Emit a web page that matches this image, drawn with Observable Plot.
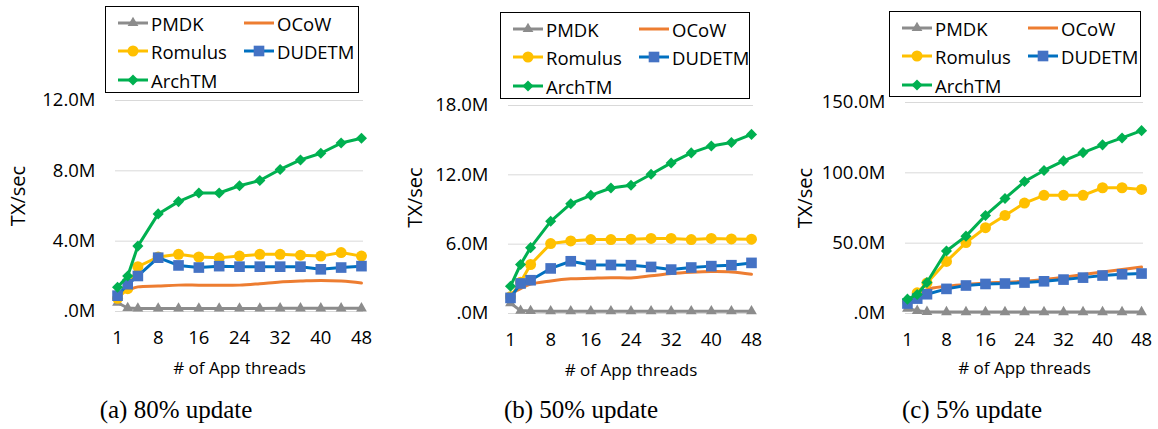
<!DOCTYPE html>
<html><head><meta charset="utf-8">
<script src="https://cdn.jsdelivr.net/npm/d3@7"></script>
<script src="https://cdn.jsdelivr.net/npm/@observablehq/plot@0.6"></script>
<style>
body{margin:0;background:#fff;}
#root{position:relative;width:1158px;height:429px;overflow:hidden;font-family:"Open Sans",sans-serif;}
.panel{position:absolute;top:0;}
.legend{position:absolute;border:1px solid #000;background:#fff;box-sizing:border-box;}
.item{position:absolute;height:20px;display:flex;align-items:center;font-size:18.5px;color:#000;white-space:nowrap;}
.item svg{margin-right:2px;}
.caption{position:absolute;top:396px;font-family:"Liberation Serif",serif;font-size:25px;transform:translateX(-50%);white-space:nowrap;color:#000;}
</style>
</head><body><div id="root"></div>
<script>
// ---- data ----
const threads = [1,2,4,8,12,16,20,24,28,32,36,40,44,48];
const xTickLabels = [1,8,16,24,32,40,48];
const seriesNames = ["PMDK","OCoW","Romulus","DUDETM","ArchTM"];
const captions = ["(a) 80% update","(b) 50% update","(c) 5% update"];
const yTitle = "TX/sec";
const xTitle = "# of App threads";

// values in millions of TX/sec
const upd80_PMDK    = [0.5,0.2,0.17,0.17,0.17,0.17,0.17,0.17,0.17,0.18,0.18,0.18,0.18,0.18];
const upd80_OCoW    = [1.0,1.2,1.4,1.45,1.5,1.5,1.5,1.5,1.58,1.68,1.73,1.77,1.73,1.62];
const upd80_Romulus = [0.75,1.3,2.55,3.1,3.25,3.1,3.05,3.15,3.25,3.25,3.2,3.15,3.35,3.15];
const upd80_DUDETM  = [0.9,1.55,2.02,3.06,2.62,2.5,2.58,2.55,2.55,2.55,2.55,2.4,2.5,2.58];
const upd80_ArchTM  = [1.38,2.02,3.72,5.55,6.25,6.74,6.74,7.15,7.45,8.08,8.62,9.0,9.58,9.85];

const upd50_PMDK    = [0.9,0.25,0.22,0.2,0.2,0.2,0.2,0.2,0.2,0.2,0.2,0.2,0.2,0.2];
const upd50_OCoW    = [1.7,2.16,2.54,2.82,3.0,3.05,3.1,3.08,3.26,3.46,3.57,3.63,3.6,3.4];
const upd50_Romulus = [1.45,2.7,4.24,6.05,6.28,6.4,6.4,6.43,6.5,6.5,6.4,6.5,6.45,6.43];
const upd50_DUDETM  = [1.35,2.6,2.88,3.9,4.52,4.2,4.2,4.18,4.03,3.8,3.98,4.1,4.18,4.38];
const upd50_ArchTM  = [2.36,4.24,5.7,7.98,9.5,10.23,10.86,11.1,12.05,13.03,13.9,14.5,14.8,15.5];

const upd5_PMDK     = [3.5,1.9,1.2,1.0,1.0,1.0,1.0,1.0,1.0,1.0,1.0,1.0,1.0,1.0];
const upd5_OCoW     = [9.5,12.3,17,19.4,20.6,21.7,22.2,22.9,24.1,25.8,27.7,29.5,31.2,33];
const upd5_Romulus  = [8.3,14.7,21.7,37,50.4,61,69.7,78.5,84,84,84,89.4,89.4,88.2];
const upd5_DUDETM   = [7.1,10.6,13.7,17.5,19.9,21,21.3,22,22.9,24.1,25.5,27,27.9,28.4];
const upd5_ArchTM   = [10.2,13.5,22,44.4,55,69.7,81.8,93.8,101.7,108.5,114.4,119.9,124.8,130];

const yTicks80 = [0,4,8,12];
const yTicks50 = [0,6,12,18];
const yTicks5  = [0,50,100,150];

// ---- styles ----
const styles = {
  PMDK:    {line:"#8c8c8c", fill:"#8c8c8c", symbol:"triangle", r:4.0, curve:"linear"},
  OCoW:    {line:"#ED7D31", fill:null, symbol:null, r:0, curve:"catmull-rom"},
  Romulus: {line:"#FFC000", fill:"#FFC000", symbol:"circle", r:5.5, curve:"linear"},
  DUDETM:  {line:"#0070C0", fill:"#4472C4", symbol:"square", r:6.0, curve:"linear"},
  ArchTM:  {line:"#00B050", fill:"#00B050", symbol:"diamond2", r:5.0, curve:"linear"}
};

// category-like x position used by the original chart (1,2,4 squeezed; then every 4 threads = 1 slot)
const pos = t => t <= 4 ? Math.log2(t) / 2 : t / 4;

const panels = [
  {left:0,   values:[upd80_PMDK,upd80_OCoW,upd80_Romulus,upd80_DUDETM,upd80_ArchTM], yTicks:yTicks80,
   ml:115, mr:23, mt:100, mb:79, ytdx:-97, ytdy:-10, xtdy:57,
   legend:{left:105, top:6, width:254, height:87}, cap:176},
  {left:386, values:[upd50_PMDK,upd50_OCoW,upd50_Romulus,upd50_DUDETM,upd50_ArchTM], yTicks:yTicks50,
   ml:122, mr:19, mt:105, mb:77, ytdx:-93, ytdy:-12, xtdy:57,
   legend:{left:500, top:12, width:250, height:87}, cap:581},
  {left:772, values:[upd5_PMDK,upd5_OCoW,upd5_Romulus,upd5_DUDETM,upd5_ArchTM], yTicks:yTicks5,
   ml:133, mr:15, mt:102, mb:77, ytdx:-100, ytdy:-10, xtdy:55,
   legend:{left:889, top:11, width:252, height:86}, cap:972}
];

const fmtY = v => v === 0 ? ".0M" : v.toFixed(1) + "M";
const xLabelOf = new Map(xTickLabels.map(t => [pos(t), String(t)]));

const root = document.getElementById("root");

function swatch(name){
  const s = styles[name];
  const ns = "http://www.w3.org/2000/svg";
  const svg = document.createElementNS(ns,"svg");
  svg.setAttribute("width","32"); svg.setAttribute("height","16");
  const ln = document.createElementNS(ns,"line");
  ln.setAttribute("x1","1"); ln.setAttribute("x2","31"); ln.setAttribute("y1","8"); ln.setAttribute("y2","8");
  ln.setAttribute("stroke", s.line); ln.setAttribute("stroke-width","3");
  svg.appendChild(ln);
  if (s.symbol){
    const p = document.createElementNS(ns,"path");
    const map = {triangle:d3.symbolTriangle, circle:d3.symbolCircle, square:d3.symbolSquare, diamond2:d3.symbolDiamond2};
    p.setAttribute("d", d3.symbol(map[s.symbol], Math.PI*s.r*s.r)());
    p.setAttribute("transform","translate(16,8)");
    p.setAttribute("fill", s.fill);
    svg.appendChild(p);
  }
  return svg;
}

panels.forEach((cfg, k) => {
  const data = [];
  seriesNames.forEach((s, i) => cfg.values[i].forEach((v, j) => data.push({series:s, t:threads[j], v})));
  const marks = [
    Plot.gridY(cfg.yTicks, {stroke:"#d9d9d9", strokeOpacity:1, strokeWidth:1}),
    Plot.axisY(cfg.yTicks, {tickSize:0, tickPadding:20, tickFormat:fmtY, label:null, fontSize:18.5}),
    Plot.axisX(xTickLabels.map(pos), {tickSize:0, tickPadding:19, tickFormat:d => xLabelOf.get(d), label:null, fontSize:18.5}),
    Plot.text([yTitle], {frameAnchor:"left", rotate:-90, dx:cfg.ytdx, dy:cfg.ytdy, fontSize:20, textAnchor:"middle", lineAnchor:"middle"}),
    Plot.text([xTitle], {frameAnchor:"bottom", dy:cfg.xtdy, fontSize:17, textAnchor:"middle", lineAnchor:"middle"})
  ];
  seriesNames.forEach(name => {
    const s = styles[name];
    const d = data.filter(e => e.series === name);
    marks.push(Plot.line(d, {x:e => pos(e.t), y:"v", stroke:s.line, strokeWidth:3, curve:s.curve}));
    if (s.symbol) marks.push(Plot.dot(d, {x:e => pos(e.t), y:"v", symbol:s.symbol, r:s.r, fill:s.fill, stroke:"none"}));
  });
  const chart = Plot.plot({
    width:386, height:390,
    marginLeft:cfg.ml, marginRight:cfg.mr, marginTop:cfg.mt, marginBottom:cfg.mb,
    style:{fontFamily:"Open Sans", fontSize:"17px", color:"#000", background:"transparent", overflow:"visible"},
    x:{type:"linear", domain:[-0.1, 12.1]},
    y:{type:"linear", domain:[cfg.yTicks[0], cfg.yTicks[cfg.yTicks.length-1]]},
    marks
  });
  const wrap = document.createElement("div");
  wrap.className = "panel";
  wrap.style.left = cfg.left + "px";
  wrap.appendChild(chart);
  root.appendChild(wrap);

  // legend
  const lg = document.createElement("div");
  lg.className = "legend";
  Object.assign(lg.style, {left:cfg.legend.left+"px", top:cfg.legend.top+"px", width:cfg.legend.width+"px", height:cfg.legend.height+"px"});
  const slots = [[11,6],[137,6],[11,34],[137,34],[11,63]];
  seriesNames.forEach((name, i) => {
    const it = document.createElement("div");
    it.className = "item";
    it.style.left = slots[i][0] + "px";
    it.style.top = slots[i][1] + "px";
    it.appendChild(swatch(name));
    const sp = document.createElement("span");
    sp.textContent = name;
    it.appendChild(sp);
    lg.appendChild(it);
  });
  root.appendChild(lg);

  const cap = document.createElement("div");
  cap.className = "caption";
  cap.style.left = cfg.cap + "px";
  cap.textContent = captions[k];
  root.appendChild(cap);
});
</script>
</body></html>
